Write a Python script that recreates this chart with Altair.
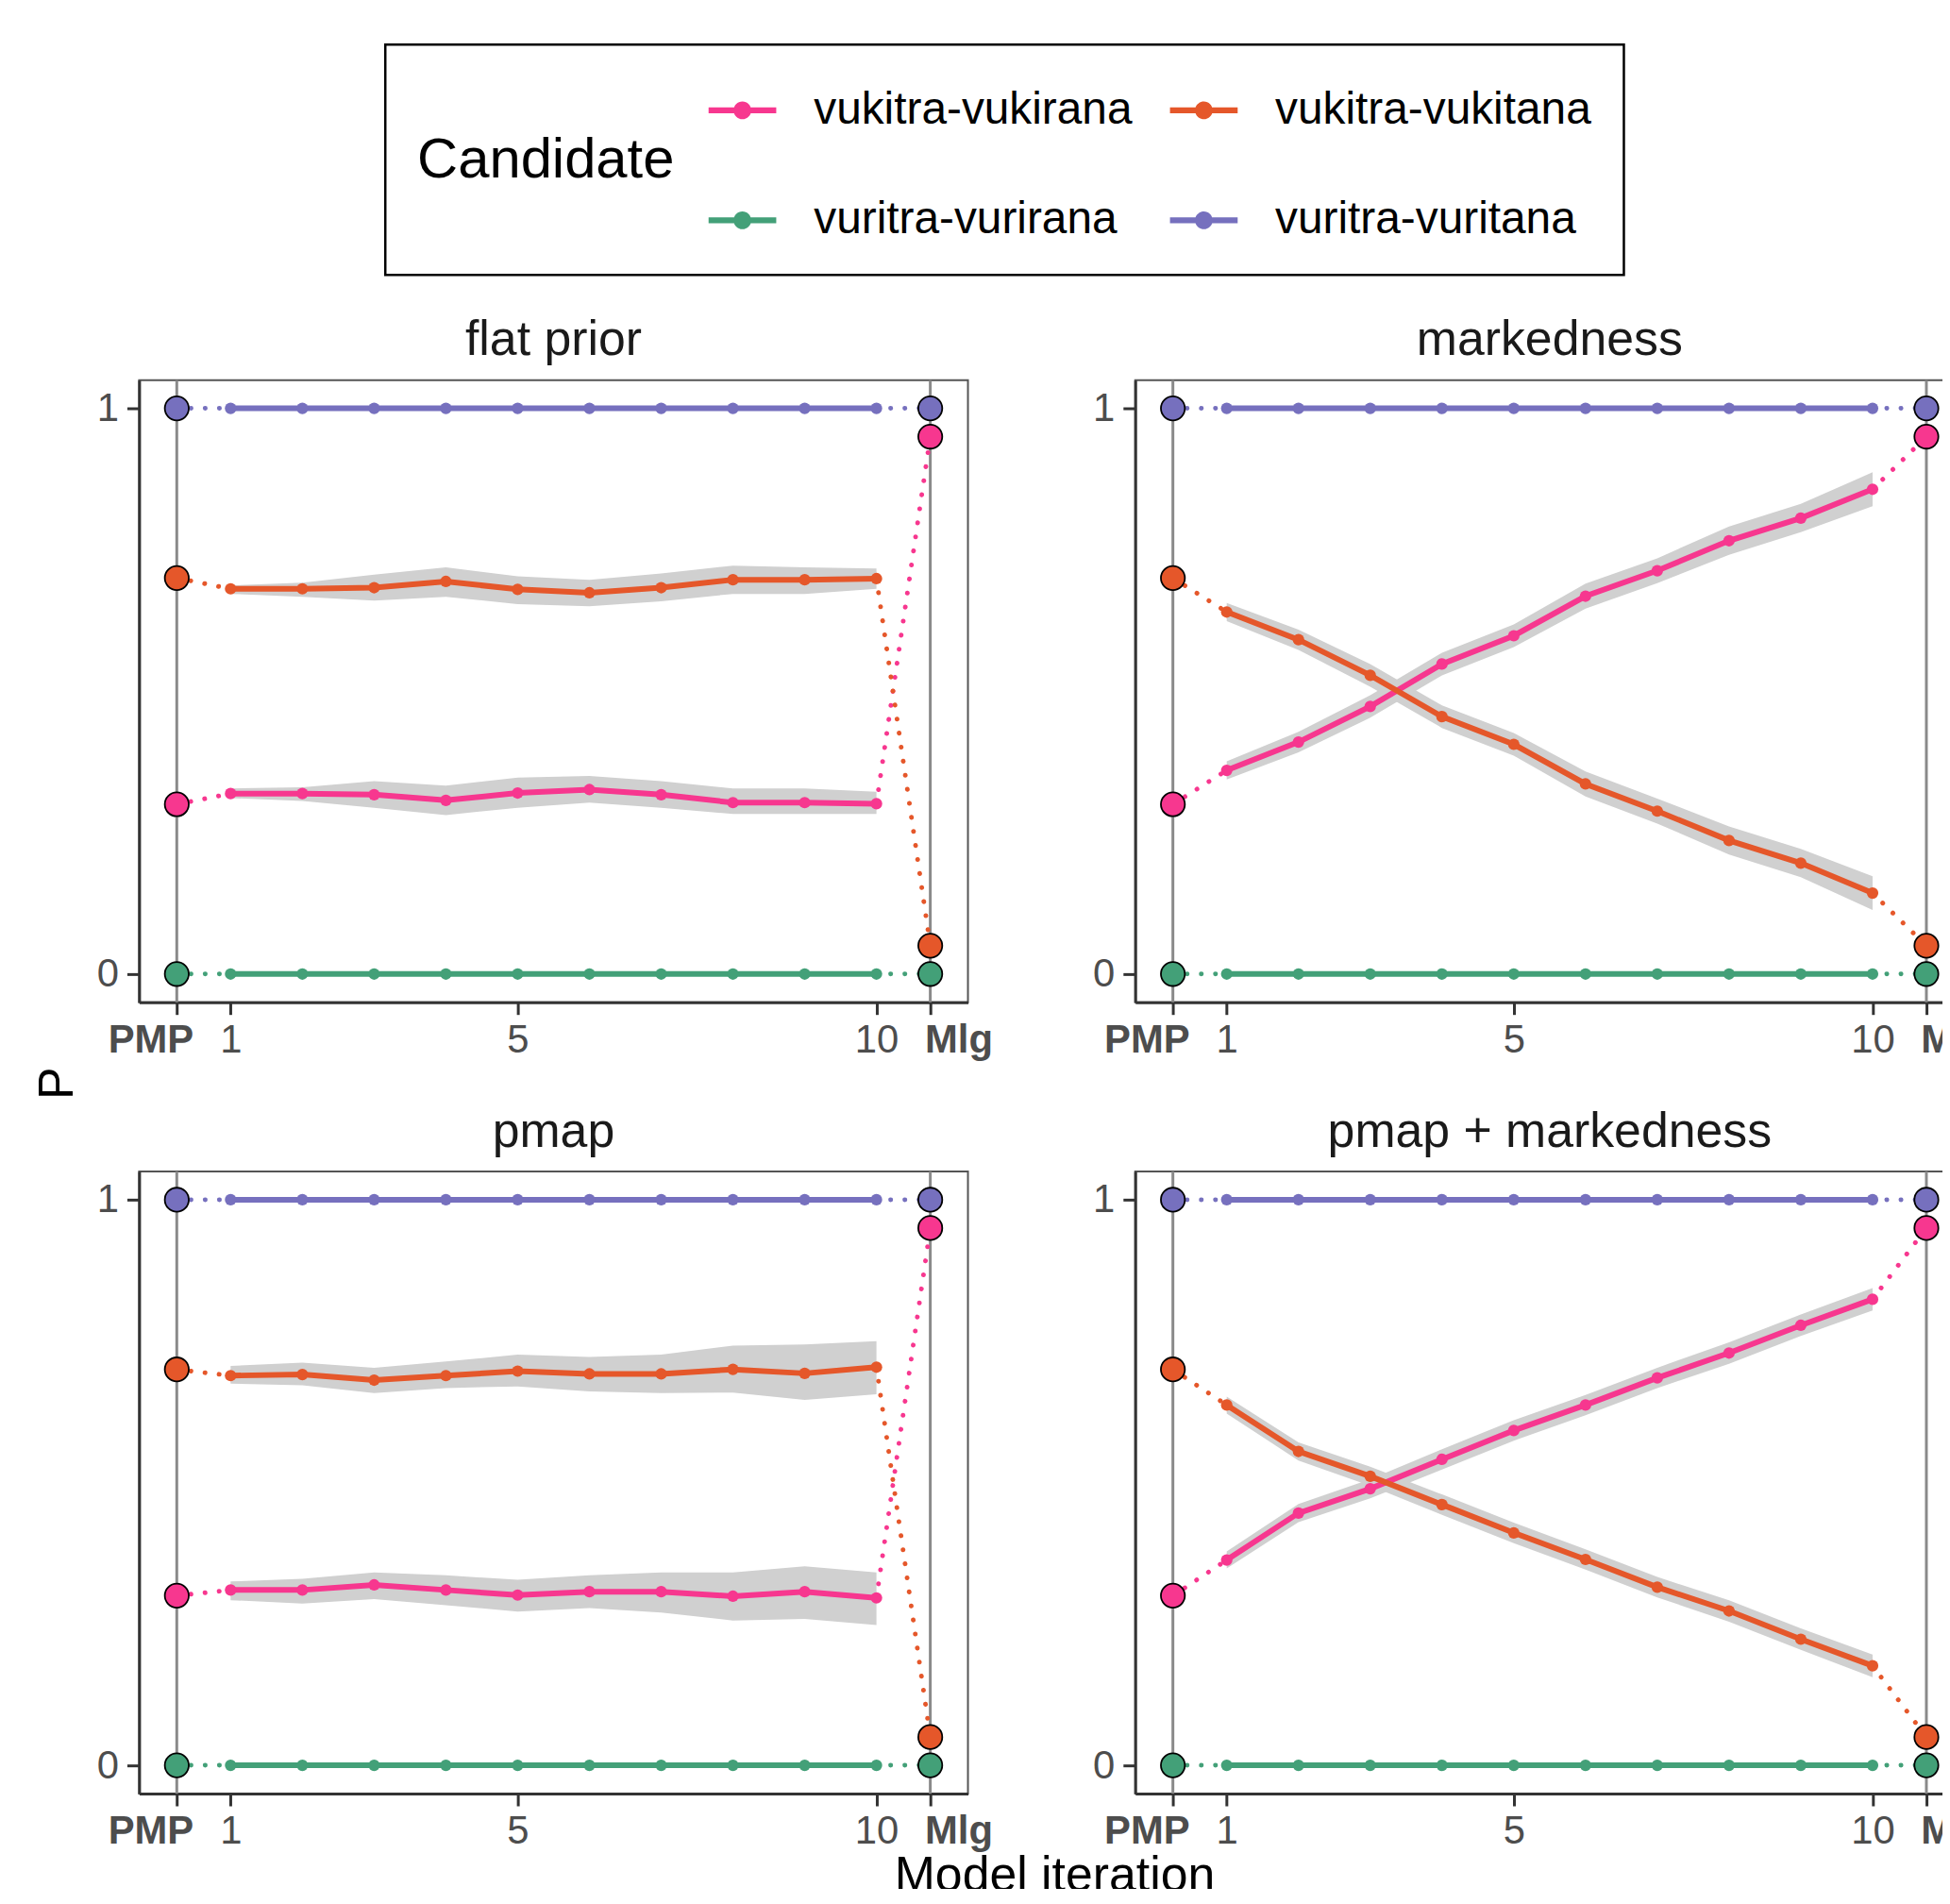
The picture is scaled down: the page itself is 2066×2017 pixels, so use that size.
import altair as alt
import pandas as pd

FONT = "Liberation Sans"

panels = ["flat prior", "markedness", "pmap", "pmap + markedness"]
candidates = ["vukitra-vukirana", "vukitra-vukitana", "vuritra-vurirana", "vuritra-vuritana"]
colors = ["#F7378F", "#E5572A", "#43A078", "#7670BE"]
iterations = [1, 2, 3, 4, 5, 6, 7, 8, 9, 10]

# Points at the two ends of the x axis ("PMP" and "Mlg")
pmp_values = [0.30, 0.70, 0.0, 1.0]
mlg_values = [0.95, 0.05, 0.0, 1.0]

# Iteration means and ribbons, per panel
vukirana_mean = {
    "flat prior": [0.319, 0.319, 0.317, 0.307, 0.320, 0.326, 0.317, 0.303, 0.303, 0.301],
    "markedness": [0.360, 0.410, 0.473, 0.548, 0.598, 0.668, 0.713, 0.766, 0.806, 0.857],
    "pmap": [0.310, 0.310, 0.319, 0.310, 0.301, 0.307, 0.307, 0.299, 0.307, 0.296],
    "pmap + markedness": [0.363, 0.446, 0.489, 0.541, 0.592, 0.637, 0.685, 0.729, 0.778, 0.824],
}
vukirana_lo = {
    "flat prior": [0.311, 0.306, 0.294, 0.281, 0.294, 0.303, 0.294, 0.283, 0.283, 0.283],
    "markedness": [0.344, 0.392, 0.453, 0.528, 0.578, 0.646, 0.691, 0.741, 0.781, 0.827],
    "pmap": [0.292, 0.286, 0.294, 0.283, 0.272, 0.278, 0.270, 0.256, 0.259, 0.248],
    "pmap + markedness": [0.348, 0.430, 0.472, 0.523, 0.574, 0.619, 0.667, 0.710, 0.759, 0.804],
}
vukirana_hi = {
    "flat prior": [0.328, 0.330, 0.341, 0.333, 0.347, 0.350, 0.341, 0.328, 0.328, 0.322],
    "markedness": [0.376, 0.428, 0.493, 0.568, 0.618, 0.690, 0.735, 0.791, 0.831, 0.887],
    "pmap": [0.325, 0.330, 0.341, 0.336, 0.328, 0.336, 0.341, 0.341, 0.352, 0.341],
    "pmap + markedness": [0.378, 0.462, 0.506, 0.559, 0.610, 0.655, 0.703, 0.748, 0.797, 0.844],
}
vukitana_mean = {
    "flat prior": [0.681, 0.681, 0.683, 0.694, 0.680, 0.674, 0.683, 0.697, 0.697, 0.699],
    "markedness": [0.640, 0.591, 0.528, 0.455, 0.406, 0.336, 0.288, 0.236, 0.196, 0.143],
    "pmap": [0.689, 0.691, 0.681, 0.689, 0.697, 0.692, 0.692, 0.700, 0.693, 0.704],
    "pmap + markedness": [0.637, 0.555, 0.511, 0.461, 0.411, 0.364, 0.315, 0.273, 0.223, 0.176],
}
vukitana_lo = {
    "flat prior": [0.672, 0.667, 0.660, 0.667, 0.654, 0.650, 0.659, 0.672, 0.672, 0.681],
    "markedness": [0.624, 0.573, 0.508, 0.435, 0.386, 0.314, 0.266, 0.211, 0.171, 0.113],
    "pmap": [0.675, 0.672, 0.658, 0.667, 0.670, 0.661, 0.658, 0.659, 0.646, 0.656],
    "pmap + markedness": [0.622, 0.539, 0.494, 0.443, 0.393, 0.346, 0.297, 0.254, 0.204, 0.156],
}
vukitana_hi = {
    "flat prior": [0.687, 0.692, 0.706, 0.719, 0.703, 0.697, 0.708, 0.722, 0.719, 0.717],
    "markedness": [0.656, 0.609, 0.548, 0.475, 0.426, 0.358, 0.310, 0.261, 0.221, 0.173],
    "pmap": [0.706, 0.712, 0.703, 0.714, 0.726, 0.722, 0.726, 0.742, 0.744, 0.750],
    "pmap + markedness": [0.652, 0.571, 0.528, 0.479, 0.429, 0.382, 0.333, 0.292, 0.242, 0.196],
}
vurirana_mean = [0, 0, 0, 0, 0, 0, 0, 0, 0, 0]
vuritana_mean = [1, 1, 1, 1, 1, 1, 1, 1, 1, 1]

PMP_X = 0.25
MLG_X = 10.75

# ---- build tables -------------------------------------------------------
line_rows, ribbon_rows, end_rows, seg_rows = [], [], [], []
for pn in panels:
    series = {
        candidates[0]: vukirana_mean[pn],
        candidates[1]: vukitana_mean[pn],
        candidates[2]: vurirana_mean,
        candidates[3]: vuritana_mean,
    }
    for ci, c in enumerate(candidates):
        vals = series[c]
        for it, v in zip(iterations, vals):
            line_rows.append({"panel": pn, "candidate": c, "x": it, "p": v})
        end_rows.append({"panel": pn, "candidate": c, "x": PMP_X, "p": pmp_values[ci]})
        end_rows.append({"panel": pn, "candidate": c, "x": MLG_X, "p": mlg_values[ci]})
        seg_rows.append({"panel": pn, "candidate": c, "x": PMP_X, "y": pmp_values[ci],
                         "x2": iterations[0], "y2": vals[0]})
        seg_rows.append({"panel": pn, "candidate": c, "x": iterations[-1], "y": vals[-1],
                         "x2": MLG_X, "y2": mlg_values[ci]})
    for c, lo, hi in [(candidates[0], vukirana_lo[pn], vukirana_hi[pn]),
                      (candidates[1], vukitana_lo[pn], vukitana_hi[pn])]:
        for it, a, b in zip(iterations, lo, hi):
            ribbon_rows.append({"panel": pn, "candidate": c, "x": it, "lo": a, "hi": b})

df_line = pd.DataFrame(line_rows)
df_rib = pd.DataFrame(ribbon_rows)
df_end = pd.DataFrame(end_rows)
df_seg = pd.DataFrame(seg_rows)
df_vr = pd.DataFrame({"x": [PMP_X, MLG_X]})

color_scale = alt.Scale(domain=candidates, range=colors)
x_scale = alt.Scale(domain=[-0.275, 11.275], nice=False, zero=False)
y_scale = alt.Scale(domain=[-0.05, 1.05], nice=False, zero=False)

LEGEND_SYMBOL = ("M-1,-0.09H1V0.09H-1Z "
                 "M-0.26,0A0.26,0.26 0 1 1 0.26,0A0.26,0.26 0 1 1 -0.26,0Z")

x_axis = alt.Axis(
    values=[PMP_X, 1, 5, 10, MLG_X],
    labelExpr="datum.value == 0.25 ? 'PMP' : (datum.value == 10.75 ? 'Mlg' : datum.label)",
    labelFontWeight={"condition": {"test": "datum.value < 0.5 || datum.value > 10.5", "value": "bold"},
                     "value": "normal"},
    labelOffset={"condition": [{"test": "datum.value < 0.5", "value": -28},
                               {"test": "datum.value > 10.5", "value": 30}],
                 "value": 0},
    labelOverlap=False, labelFlush=False, title=None, format="d", labelPadding=7,
)
y_axis = alt.Axis(values=[0, 1], format="d", title=None, labelOverlap=False, labelFlush=False,
                  labelPadding=9)

LEG = alt.Legend(
    title="Candidate", orient="none", legendX=262, legendY=-357,
    direction="horizontal", columns=2,
    titleOrient="left", titleFontSize=60, titleFont=FONT, titleFontWeight="normal",
    titleColor="black", titleAnchor="middle", titleBaseline="middle", titlePadding=36,
    titleLimit=2000, labelLimit=2000,
    labelFontSize=48, labelFont=FONT, labelColor="black", labelOffset=40,
    symbolType=LEGEND_SYMBOL, symbolSize=5184, symbolStrokeWidth=0, symbolOpacity=1,
    columnPadding=40, rowPadding=57, padding=34, fillColor="white",
)

W, H = 882, 662


def panel_chart(pn):
    X = alt.X("x:Q", scale=x_scale, axis=x_axis)
    Y = alt.Y("p:Q", scale=y_scale, axis=y_axis)
    C = alt.Color("candidate:N", scale=color_scale, legend=LEG)

    vr = alt.Chart(df_vr).mark_rule(color="#8A8A8A", strokeWidth=3).encode(
        x=alt.X("x:Q", scale=x_scale, axis=x_axis))

    rib = alt.Chart(df_rib[df_rib.panel == pn]).mark_area(color="#D0D0D0", opacity=1).encode(
        x=alt.X("x:Q", scale=x_scale, axis=x_axis),
        y=alt.Y("lo:Q", scale=y_scale, axis=y_axis),
        y2="hi:Q",
        detail="candidate:N",
    )

    seg = alt.Chart(df_seg[df_seg.panel == pn]).mark_rule(
        strokeWidth=5, strokeDash=[0.1, 15], strokeCap="round").encode(
        x=alt.X("x:Q", scale=x_scale, axis=x_axis),
        y=alt.Y("y:Q", scale=y_scale, axis=y_axis),
        x2="x2:Q", y2="y2:Q",
        color=C,
    )

    ln = alt.Chart(df_line[df_line.panel == pn]).mark_line(strokeWidth=6).encode(
        x=X, y=Y, color=C, detail="candidate:N",
    )

    pts = alt.Chart(df_line[df_line.panel == pn]).mark_circle(size=150, opacity=1).encode(
        x=X, y=Y, color=C,
    )

    ends = alt.Chart(df_end[df_end.panel == pn]).mark_point(
        shape="circle", filled=True, size=650, stroke="black", strokeWidth=1.8, opacity=1
    ).encode(
        x=X, y=Y,
        fill=alt.Fill("candidate:N", scale=color_scale, legend=None),
    )

    return alt.layer(vr, rib, seg, ln, pts, ends).properties(
        width=W, height=H,
        title=alt.TitleParams(pn, fontSize=52, font=FONT, fontWeight="normal", color="#1A1A1A",
                              anchor="middle", offset=14),
    )


row1 = alt.hconcat(panel_chart(panels[0]), panel_chart(panels[1]), spacing=103)
row2 = alt.hconcat(panel_chart(panels[2]), panel_chart(panels[3]), spacing=103)
grid = alt.vconcat(row1, row2, spacing=48).properties(
    title=alt.TitleParams("P", orient="left", fontSize=52, font=FONT, fontWeight="normal",
                          color="black", anchor="middle", offset=13)
)
chart = alt.vconcat(grid).properties(
    title=alt.TitleParams("Model iteration", orient="bottom", fontSize=52, font=FONT,
                          fontWeight="normal", color="black", anchor="middle", offset=0, dx=46),
    padding={"left": 27, "top": 33, "right": -51, "bottom": -16},
).configure_view(
    stroke="#555555", strokeWidth=2
).configure_axis(
    domainColor="#333333", domainWidth=3, tickColor="#333333", tickWidth=3, tickSize=13,
    labelColor="#4D4D4D", labelFont=FONT, labelFontSize=42, grid=False,
).configure_legend(
    strokeColor="black", strokeWidth=2.5,
)

chart.save("out.html", embed_options={"renderer": "svg", "actions": False})
